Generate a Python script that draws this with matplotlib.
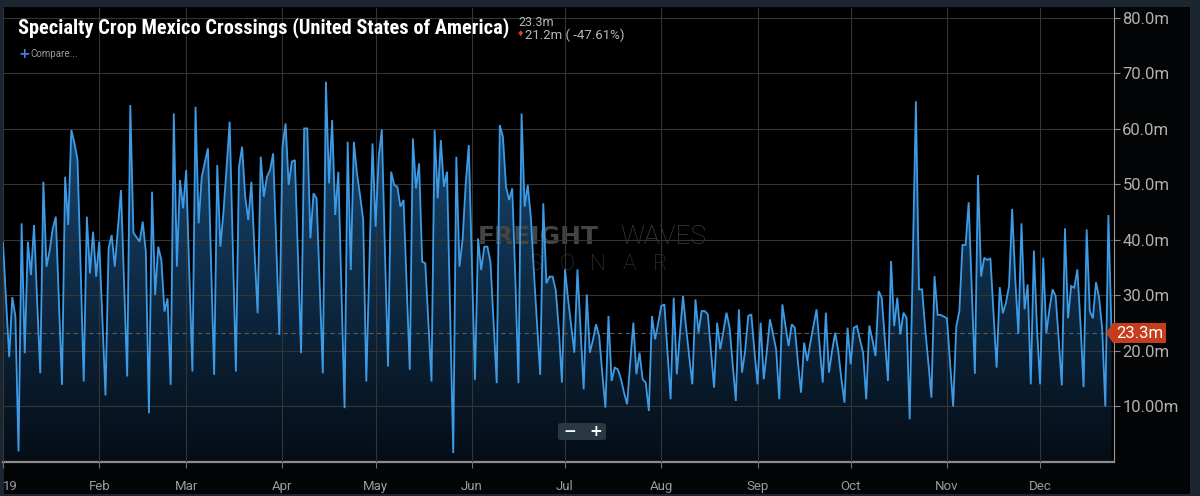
import numpy as np
import pandas as pd
import matplotlib
matplotlib.use('Agg')
import matplotlib.pyplot as plt
import matplotlib.dates as mdates
from matplotlib.patches import Rectangle, Polygon, FancyBboxPatch
from matplotlib.colors import LinearSegmentedColormap

# daily crossings (millions of lbs), 2019-01-01 onwards
crossings = [
    39.5, 29, 18.9, 29.7, 26.2, 1.9, 43, 19.6, 39.7, 33.7, 42.7, 29, 16, 50.5, 35.2, 38, 42, 44.2, 29, 13.9,
    51.4, 42.7, 59.8, 57.5, 54.4, 35, 14.5, 44.2, 34, 41.5, 33.4, 39.7, 26, 12, 38.5, 40.9, 35.2, 42, 49, 32,
    15.4, 64.3, 41.3, 40.5, 39.7, 43.3, 37.9, 8.8, 48.7, 30.1, 38.8, 36.4, 27.1, 29.5, 13.9, 62.8, 35.2, 50.8, 45.7, 52.6,
    34, 16.3, 64, 43, 51.4, 54, 56.5, 36, 15.7, 53.5, 38.8, 45, 53, 61.3, 39, 16.3, 53.2, 56.8, 47.8, 43.6,
    50.5, 38, 26.8, 55, 47.8, 51.4, 52.6, 55.6, 39, 22.9, 56.8, 61, 49.9, 54.1, 54.4, 37, 19.6, 60.1, 60.1, 40.3,
    48.4, 47.5, 32, 16, 68.5, 50.2, 61.6, 44.5, 52.3, 31, 9.7, 57.7, 34.6, 57.7, 52, 48, 43.6, 14.5, 36, 57.4,
    42.4, 55, 59.9, 38, 17.2, 52.3, 49.9, 49.6, 46, 47.2, 32, 16.6, 58.3, 49.3, 53.8, 36.1, 35.8, 25, 14.5, 59.8,
    47.5, 58, 49.6, 52.3, 27, 1.6, 55, 35.2, 40, 50, 57.1, 36, 14.8, 40.3, 34.6, 38.8, 38.8, 36, 25, 14.2,
    60.7, 58.6, 49.6, 47.2, 49.3, 33, 14.2, 62.8, 46, 49.9, 44, 34, 25, 15.7, 46.6, 32.2, 33.4, 33.4, 31, 24,
    14.3, 34.7, 29.3, 24.5, 19.7, 34.7, 24, 13.1, 30.2, 19.7, 22, 24.8, 22.7, 16, 9.8, 26.3, 14.6, 17, 16.7, 15,
    12.5, 10.4, 18, 25.1, 15.8, 19.7, 14.9, 14.3, 9.2, 26.3, 22.1, 25, 28.1, 28.4, 20, 11.3, 29.6, 15.8, 23, 29.9,
    24.2, 19, 14, 29.3, 23.3, 27.2, 27.2, 26.6, 20, 13.4, 25.1, 20.3, 23.5, 26.9, 24.2, 17.5, 11, 27.5, 16.1, 20,
    26.3, 26.6, 20, 14, 25.1, 14.9, 20, 25.7, 23, 20.3, 11.3, 28.4, 24.5, 20.9, 24.8, 24.2, 18, 12.5, 21.5, 18.2,
    21.5, 24.5, 27.5, 21, 14.3, 26.9, 16.1, 20, 23.3, 20, 15, 10.7, 24.2, 17.6, 24.2, 24.5, 22, 19.7, 11.3, 24.6,
    22, 19.1, 30.8, 29.6, 22, 14.6, 36.2, 24.5, 29.6, 23, 26.9, 26, 7.7, 36, 65, 31.1, 31.1, 24, 18, 11.6,
    33.5, 26.5, 26.5, 26.2, 25.9, 18, 10, 24.4, 27.2, 39.1, 39.1, 46.8, 31, 15.9, 51.7, 33.4, 36.8, 36.4, 36.7, 27,
    17, 31.5, 26.8, 28.7, 31.7, 45.6, 33, 23.1, 43, 27.5, 32, 14, 38.1, 24, 14, 36.8, 23.2, 27.5, 31.1, 29.9,
    22, 13.8, 42.1, 25.9, 31.7, 31.4, 34.7, 25, 13.5, 41.9, 27.2, 25.9, 32.4, 29.6, 24, 10, 44.5, 23.3,
]
month_labels = ['19', 'Feb', 'Mar', 'Apr', 'May', 'Jun', 'Jul', 'Aug', 'Sep', 'Oct', 'Nov', 'Dec']
y_ticks = [10, 20, 30, 40, 50, 60, 70, 80]
y_labels = ['10.00m', '20.0m', '30.0m', '40.0m', '50.0m', '60.0m', '70.0m', '80.0m']
last_value = 23.3
prev_change = '21.2m ( -47.61%)'

W, H = 1200, 496
def fx(x): return x / W
def fy(y): return 1 - y / H

dates = pd.date_range('2019-01-01', periods=len(crossings), freq='D')
xs = mdates.date2num(dates)
vals = np.array(crossings)

fig = plt.figure(figsize=(12, 4.96), dpi=100, facecolor='#1c2631')
fig.patches.append(Rectangle((fx(4), fy(494)), fx(1190 - 4), (494 - 7) / H,
                             transform=fig.transFigure, facecolor='#030405', edgecolor='none', zorder=-5))

ax = fig.add_axes([fx(3), fy(462), fx(1114 - 3), (462 - 8) / H])
ax.set_facecolor('black')
x0 = xs[0]
x1 = x0 + 357.8
ax.set_xlim(x0, x1)
ax.set_ylim(0, 81.8)

# gradient area under line
cmap = LinearSegmentedColormap.from_list('fill', ['#050d16', '#1a4f7e'])
grad = np.linspace(0, 1, 256).reshape(-1, 1)
im = ax.imshow(grad, extent=[x0, x1, 0, 70], origin='lower', aspect='auto', cmap=cmap, zorder=1)
verts = np.vstack([[xs[0], 0], np.column_stack([xs, vals]), [xs[-1], 0]])
clip = Polygon(verts, closed=True, facecolor='none', edgecolor='none')
ax.add_patch(clip)
im.set_clip_path(clip)

ax.plot(xs, vals, color='#3d9be6', lw=1.3, zorder=3, solid_joinstyle='miter')
ax.axhline(last_value, color='#5c5c5c', lw=0.8, ls=(0, (4, 3)), zorder=2.6)

ax.set_axisbelow(False)
ax.grid(True, color='#353535', lw=0.8)

ax.yaxis.tick_right()
ax.set_yticks(y_ticks)
ax.set_yticklabels(y_labels)
month_starts = mdates.date2num(pd.date_range('2019-01-01', '2019-12-01', freq='MS'))
ax.set_xticks(month_starts)
ax.set_xticklabels(month_labels)
ax.tick_params(axis='y', colors='#8a8a8a', length=4, pad=2, labelsize=12, labelcolor='#b0b0b0')
ax.tick_params(axis='x', colors='#707070', length=4, pad=9, labelsize=9.5, labelcolor='#9c9c9c')
for lab in ax.get_yticklabels() + ax.get_xticklabels():
    lab.set_family('Roboto')
ax.get_xticklabels()[0].set_horizontalalignment('left')
for s in ['left', 'top']:
    ax.spines[s].set_visible(False)
ax.spines['right'].set_color('#9a9a9a')
ax.spines['bottom'].set_color('#8c8c8c')
ax.spines['bottom'].set_linewidth(1.6)

# watermark, behind the line
ax.text(fx(478), fy(237), 'FREIGHT', color='#444444', fontsize=18, fontweight='bold',
        family='DejaVu Sans', va='center', transform=fig.transFigure, zorder=2)
ax.text(fx(620), fy(237), 'WAVES', color='#3e3e3e', fontsize=19, fontweight='light',
        family='Roboto', va='center', transform=fig.transFigure, zorder=2)
for i, ch in enumerate('SONAR'):
    ax.text(fx(536 + i * 31), fy(265), ch, color='#3a3a3a', fontsize=16, fontweight='light',
            family='Roboto', va='center', ha='center', transform=fig.transFigure, zorder=2)

# header texts
fig.text(fx(18), fy(33), 'Specialty Crop Mexico Crossings (United States of America)',
         color='white', fontsize=14.7, fontweight='bold',
         family=['DejaVu Sans Condensed', 'Liberation Sans Narrow', 'Roboto Condensed', 'Roboto'],
         fontstretch='condensed', va='baseline')
fig.text(fx(518), fy(26), '%.1fm' % last_value, color='#b8b8b8', fontsize=9, family='Roboto', va='baseline')
fig.text(fx(517), fy(34), '\u2666', color='#e23b3b', fontsize=6, family='DejaVu Sans', va='center')
fig.text(fx(525), fy(39), prev_change, color='#b8b8b8', fontsize=9.5, family='Roboto', va='baseline')
fig.text(fx(18), fy(54), '+', color='#4f78e6', fontsize=10, fontweight='bold', va='center')
fig.text(fx(30), fy(54), 'Compare...', color='#9a9a9a', fontsize=7, family='Roboto', va='center')

# zoom buttons
fig.patches.append(FancyBboxPatch((fx(558), fy(440)), fx(48), 17 / H, boxstyle='round,pad=0,rounding_size=0.003',
                                  transform=fig.transFigure, facecolor='#2a3844', edgecolor='none', zorder=5))
fig.text(fx(570), fy(431), '\u2212', color='white', fontsize=11, fontweight='bold', ha='center', va='center', zorder=6)
fig.text(fx(596), fy(431), '+', color='white', fontsize=11, fontweight='bold', ha='center', va='center', zorder=6)

# last value marker
tag = [(1106, 333), (1113, 323), (1166, 323), (1166, 343), (1113, 343)]
fig.patches.append(Polygon([(fx(a), fy(b)) for a, b in tag], closed=True, transform=fig.transFigure,
                           facecolor='#c63d1c', edgecolor='none', zorder=5))
fig.text(fx(1139.5), fy(333), '%.1fm' % last_value, color='white', fontsize=12, family='Roboto',
         ha='center', va='center', zorder=6)

fig.savefig('out.png', dpi=100, facecolor=fig.get_facecolor())
